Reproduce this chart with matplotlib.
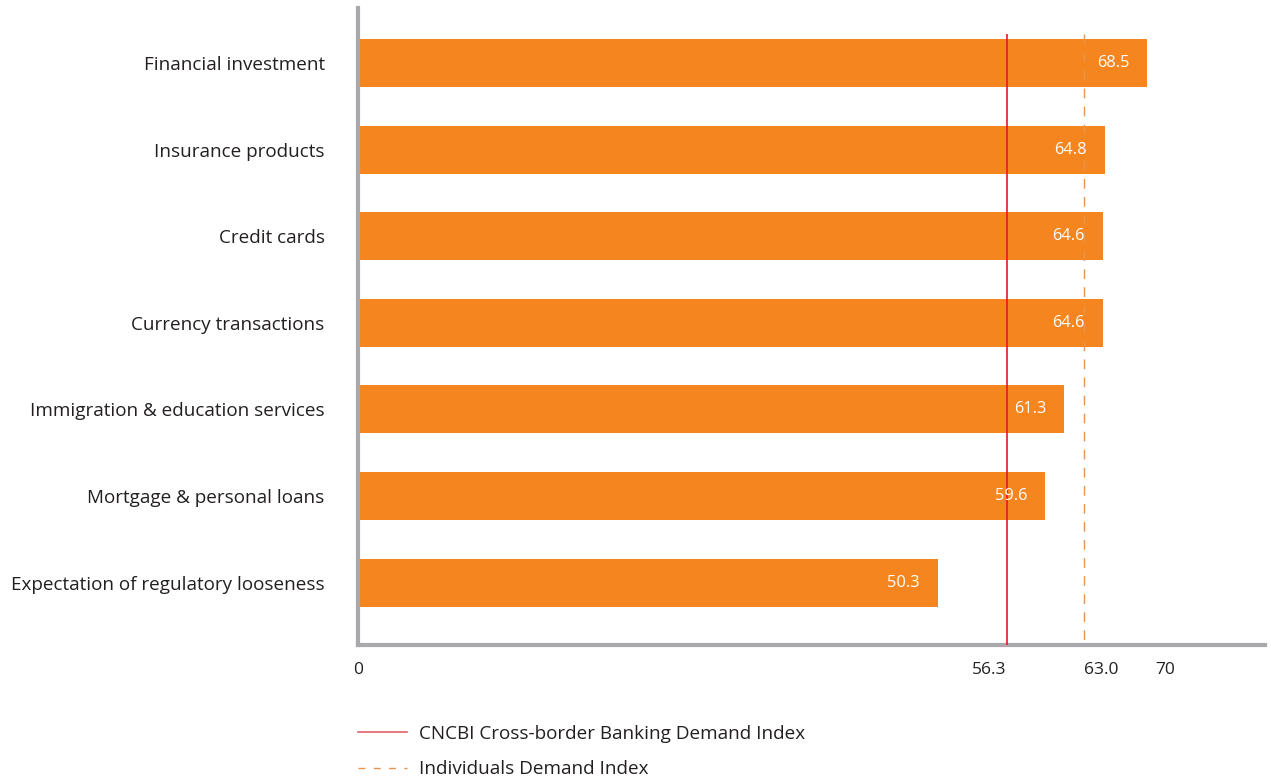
import matplotlib
matplotlib.use("Agg")
import matplotlib.pyplot as plt
from matplotlib.lines import Line2D

plt.rcParams['font.family'] = ['Open Sans', 'DejaVu Sans']

categories = [
    "Financial investment",
    "Insurance products",
    "Credit cards",
    "Currency transactions",
    "Immigration & education services",
    "Mortgage & personal loans",
    "Expectation of regulatory looseness",
]
values = [68.5, 64.8, 64.6, 64.6, 61.3, 59.6, 50.3]
overall_index = 56.3
individuals_index = 63.0
tick_values = [0, 56.3, 63.0, 70]
tick_labels = ["0", "56.3", "63.0", "70"]
legend_labels = ["CNCBI Cross-border Banking Demand Index", "Individuals Demand Index"]

BAR = "#F5861F"
AXIS = "#A7A9AC"
RED = "#E31B23"
DASH = "#E8944E"
TEXT = "#231F20"

W, H = 1271, 782
fig = plt.figure(figsize=(W / 100, H / 100), dpi=100)
ax = fig.add_axes([358 / W, 137 / H, (1265 - 358) / W, (774 - 137) / H])

ypos = list(range(len(categories)))
ax.barh(ypos, values, height=0.555, color=BAR, zorder=2)
for y, v in zip(ypos, values):
    ax.text(v - 1.55, y, f"{v:.1f}", color="white", ha="right", va="center",
            fontsize=11.8, zorder=4)

y_bottom, y_top = 6.72, -0.635
line_top = -0.34
ax.vlines(overall_index, line_top, y_bottom, color=RED, lw=1.2, zorder=3)
ax.vlines(individuals_index, line_top, y_bottom, color=DASH, lw=1.0, zorder=3,
          linestyles=(0, (7, 6)))

ax.set_xlim(0, 78.7)
ax.set_ylim(y_bottom, y_top)

ax.set_yticks(ypos)
ax.set_yticklabels(categories, fontsize=13.6, color=TEXT, va="center_baseline")
ax.tick_params(axis="y", length=0, pad=24)

ax.set_xticks(tick_values)
ax.set_xticklabels(tick_labels, fontsize=12.5, color=TEXT)
ax.tick_params(axis="x", length=0, pad=12)
lbls = ax.get_xticklabels()
lbls[1].set_ha("right")
lbls[2].set_ha("left")

for s in ["top", "right"]:
    ax.spines[s].set_visible(False)
for s in ["left", "bottom"]:
    ax.spines[s].set_color(AXIS)
    ax.spines[s].set_linewidth(3)

h1 = Line2D([], [], color="#E0606A", lw=1.2)
h2 = Line2D([], [], color=DASH, lw=1.0, linestyle=(0, (5, 6)))
fig.legend([h1, h2], legend_labels, loc="upper left",
           bbox_to_anchor=(358 / W, 1 - 725 / H), frameon=False,
           fontsize=13.6, handlelength=2.6, handletextpad=0.62,
           labelspacing=0.92, borderpad=0, borderaxespad=0, labelcolor=TEXT)

fig.savefig("out.png", dpi=100, facecolor="white")
